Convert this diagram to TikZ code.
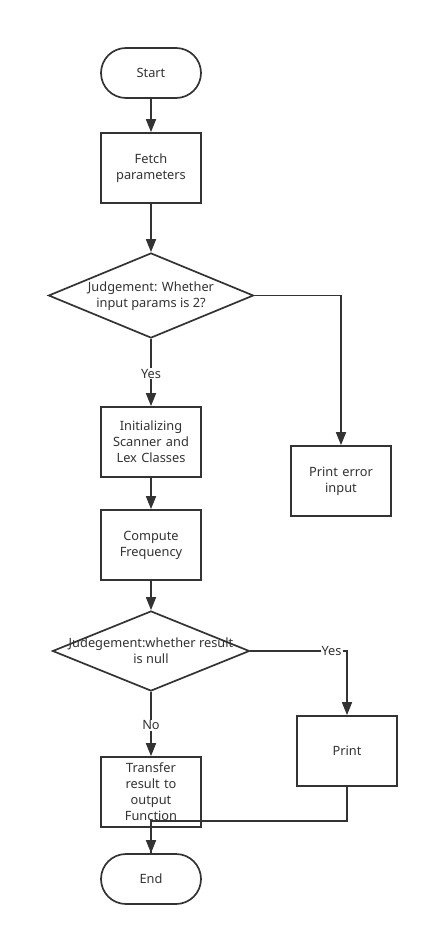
\documentclass[tikz,border=0pt]{standalone}
\usepackage{fontspec}
\setmainfont{Noto Sans}
\usetikzlibrary{arrows.meta, positioning, shapes.geometric}
\definecolor{linegray}{HTML}{333333}
\newcommand{\dtext}[1]{\makebox[0pt]{\smash{\raisebox{-0.3em}{\begin{tabular}{@{}c@{}}#1\end{tabular}}}}}

\begin{document}
\begin{tikzpicture}[
    x=1pt, y=-1pt,
    font=\fontsize{12.8}{16}\selectfont, text=linegray,
    termbox/.style={rectangle, rounded corners=25pt, draw=linegray, line width=1.7pt,
                    fill=white, align=center, minimum width=100pt, minimum height=50pt},
    procbox/.style={rectangle, draw=linegray, line width=1.7pt, fill=white,
                    align=center, text width=90pt, minimum width=100pt, minimum height=70pt,
                    inner sep=0pt},
    decbox/.style={diamond, draw=linegray, line width=1.7pt, fill=white, inner sep=0pt},
    arrow/.style={-{Triangle[length=13pt, width=10pt]}, line width=1.7pt, draw=linegray},
    wire/.style={line width=1.7pt, draw=linegray},
    lbl/.style={fill=white, inner sep=1pt}
  ]
    \useasboundingbox (0,0) rectangle (428,936);

    % Main column
    \node[termbox] (start) at (151,73)  {Start};
    \node[procbox] (fetch) at (151,168) {Fetch\\parameters};
    \node[decbox, minimum width=205pt, minimum height=85pt] (chk) at (151,295.5)
      {\dtext{Judgement: Whether\\input params is 2?}};
    \node[procbox] (init)  at (151,442) {Initializing\\Scanner and\\Lex Classes};
    \node[procbox] (comp)  at (151,545) {Compute\\Frequency};
    \node[decbox, minimum width=197pt, minimum height=80pt] (null) at (151,651)
      {\dtext{Judegement:whether result\\is null}};
    \node[procbox] (trans) at (151,792) {Transfer\\result to\\output\\Function};
    \node[termbox] (end)   at (151,879) {End};

    % Side branches
    \node[procbox] (perr)  at (341,481) {Print error\\input};
    \node[procbox] (print) at (347,751) {Print};

    % Connectors
    \draw[arrow] (start) -- (fetch);
    \draw[arrow] (fetch) -- (chk);
    \draw[arrow] (chk) -- (init) node[pos=0.52, lbl] {Yes};
    \draw[arrow] (chk.east) -| (perr.north);
    \draw[arrow] (init) -- (comp);
    \draw[arrow] (comp) -- (null);
    \draw[arrow] (null) -- (trans) node[pos=0.52, lbl] {No};
    \draw[arrow] (null.east) -| (print.north)
      node[pos=0.42, lbl] {Yes};
    \draw[wire] (trans) -- (end);
    \draw[arrow] (print.south) -- ++(0,34) -| (end.north);
\end{tikzpicture}
\end{document}
